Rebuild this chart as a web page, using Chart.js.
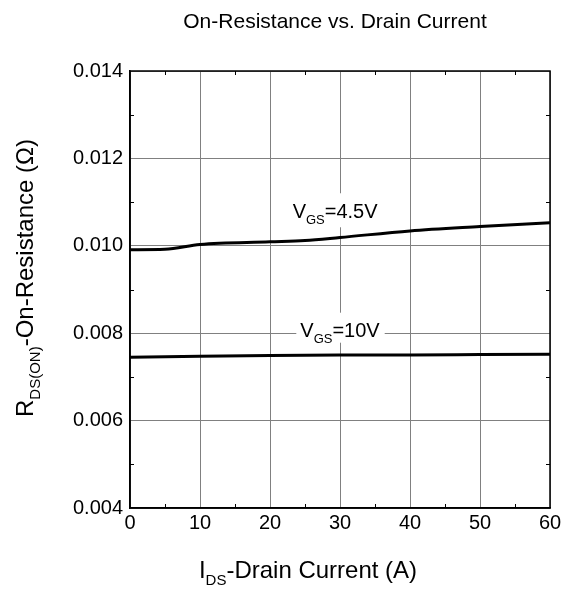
<!DOCTYPE html>
<html>
<head>
<meta charset="utf-8">
<script src="https://cdn.jsdelivr.net/npm/chart.js@4"></script>
<style>
  html, body { margin: 0; padding: 0; background: #fff; }
  #wrap { width: 571px; height: 590px; }
</style>
</head>
<body>
<div id="wrap"><canvas id="c" width="571" height="590"></canvas></div>
<script>
// ---- data ----
const xTickValues = [0, 10, 20, 30, 40, 50, 60];
const yTickValues = [0.004, 0.006, 0.008, 0.010, 0.012, 0.014];
const xMinorTicks = [5, 15, 25, 35, 45, 55];
const yMinorTicks = [0.005, 0.007, 0.009, 0.011, 0.013];

const current45 = [0, 5, 10, 20, 25, 30, 40, 50, 60];
const rds45 = [0.00991, 0.00992, 0.01003, 0.01009, 0.01012, 0.01019, 0.01034, 0.01044, 0.01053];

const current10 = [0, 10, 20, 30, 40, 50, 60];
const rds10 = [0.00745, 0.00747, 0.00749, 0.00750, 0.00750, 0.00751, 0.00752];

const titleText = 'On-Resistance vs. Drain Current';
const xTitleParts = [['I', false], ['DS', true], ['-Drain Current (A)', false]];
const yTitleParts = [['R', false], ['DS(ON)', true], ['-On-Resistance (\u03A9)', false]];
const label45Parts = [['V', false], ['GS', true], ['=4.5V', false]];
const label10Parts = [['V', false], ['GS', true], ['=10V', false]];

const FONT = "'Liberation Sans', Arial, Helvetica, sans-serif";

function toPoints(xs, ys) { return xs.map((x, i) => ({ x: x, y: ys[i] })); }

function partsWidth(ctx, parts, size, subSize) {
  let w = 0;
  for (const [t, sub] of parts) {
    ctx.font = (sub ? subSize : size) + 'px ' + FONT;
    w += ctx.measureText(t).width;
  }
  return w;
}
function drawParts(ctx, parts, x, y, size, subSize, subDrop) {
  let cx = x;
  ctx.textBaseline = 'alphabetic';
  ctx.textAlign = 'left';
  for (const [t, sub] of parts) {
    ctx.font = (sub ? subSize : size) + 'px ' + FONT;
    ctx.fillText(t, cx, sub ? y + subDrop : y);
    cx += ctx.measureText(t).width;
  }
}

const decorPlugin = {
  id: 'decor',
  beforeDatasetsDraw(chart) {
    const ctx = chart.ctx;
    const xs = chart.scales.x, ys = chart.scales.y;
    const labels = [
      { parts: label45Parts, xv: 29.3, yv: 0.01063, padL: 5, padR: 5, up: 25, down: 9 },
      { parts: label10Parts, xv: 30.0, yv: 0.00792, padL: 4, padR: 5, up: 24, down: 6 }
    ];
    ctx.save();
    for (const L of labels) {
      const w = partsWidth(ctx, L.parts, 20, 13);
      const cx = xs.getPixelForValue(L.xv);
      const by = ys.getPixelForValue(L.yv);
      const left = cx - w / 2;
      ctx.fillStyle = '#fff';
      ctx.fillRect(left - L.padL, by - L.up, w + L.padL + L.padR, L.up + L.down);
      ctx.fillStyle = '#000';
      drawParts(ctx, L.parts, left, by, 20, 13, 6);
    }
    ctx.restore();
  },
  afterDraw(chart) {
    const ctx = chart.ctx;
    const a = chart.chartArea;
    const xs = chart.scales.x, ys = chart.scales.y;
    ctx.save();
    ctx.strokeStyle = '#000';
    ctx.lineWidth = 1.5;
    ctx.strokeRect(a.left, a.top, a.right - a.left, a.bottom - a.top);
    ctx.lineWidth = 1;
    ctx.beginPath();
    for (const v of xMinorTicks) {
      const px = Math.round(xs.getPixelForValue(v)) + 0.5;
      ctx.moveTo(px, a.bottom); ctx.lineTo(px, a.bottom - 4);
      ctx.moveTo(px, a.top); ctx.lineTo(px, a.top + 4);
    }
    for (const v of yMinorTicks) {
      const py = Math.round(ys.getPixelForValue(v)) + 0.5;
      ctx.moveTo(a.left, py); ctx.lineTo(a.left + 4, py);
      ctx.moveTo(a.right, py); ctx.lineTo(a.right - 4, py);
    }
    ctx.stroke();

    ctx.fillStyle = '#000';
    ctx.font = '21px ' + FONT;
    ctx.textAlign = 'center';
    ctx.textBaseline = 'alphabetic';
    ctx.fillText(titleText, 335, 28);

    const xw = partsWidth(ctx, xTitleParts, 24, 15);
    drawParts(ctx, xTitleParts, 308 - xw / 2, 578, 24, 15, 7);

    const yw = partsWidth(ctx, yTitleParts, 24, 15);
    ctx.save();
    ctx.translate(33, 278);
    ctx.rotate(-Math.PI / 2);
    drawParts(ctx, yTitleParts, -yw / 2, 0, 24, 15, 7);
    ctx.restore();

    ctx.restore();
  }
};

const lineStyle = {
  borderColor: '#000',
  borderWidth: 3,
  pointRadius: 0,
  fill: false,
  cubicInterpolationMode: 'monotone'
};

new Chart(document.getElementById('c'), {
  type: 'line',
  data: {
    datasets: [
      Object.assign({ label: 'VGS=4.5V', data: toPoints(current45, rds45) }, lineStyle),
      Object.assign({ label: 'VGS=10V', data: toPoints(current10, rds10) }, lineStyle)
    ]
  },
  options: {
    responsive: false,
    animation: false,
    devicePixelRatio: 1,
    layout: { padding: { top: 71, right: 21, left: 0, bottom: 0 } },
    plugins: { legend: { display: false }, title: { display: false }, tooltip: { enabled: false } },
    scales: {
      x: {
        type: 'linear',
        min: 0, max: 60,
        afterBuildTicks(scale) { scale.ticks = xTickValues.map(v => ({ value: v })); },
        afterFit(scale) { scale.height = 82; },
        ticks: { color: '#000', font: { family: FONT, size: 20 }, padding: 3, maxRotation: 0, autoSkip: false },
        grid: { color: '#808080', lineWidth: 1, drawTicks: false },
        border: { color: '#000', width: 1.5 }
      },
      y: {
        type: 'linear',
        min: 0.004, max: 0.014,
        afterBuildTicks(scale) { scale.ticks = yTickValues.map(v => ({ value: v })); },
        afterFit(scale) { scale.width = 130; },
        ticks: {
          color: '#000', font: { family: FONT, size: 20 }, padding: 7, autoSkip: false,
          callback: v => Number(v).toFixed(3)
        },
        grid: { color: '#808080', lineWidth: 1, drawTicks: false },
        border: { color: '#000', width: 1.5 }
      }
    }
  },
  plugins: [decorPlugin]
});
</script>
</body>
</html>
